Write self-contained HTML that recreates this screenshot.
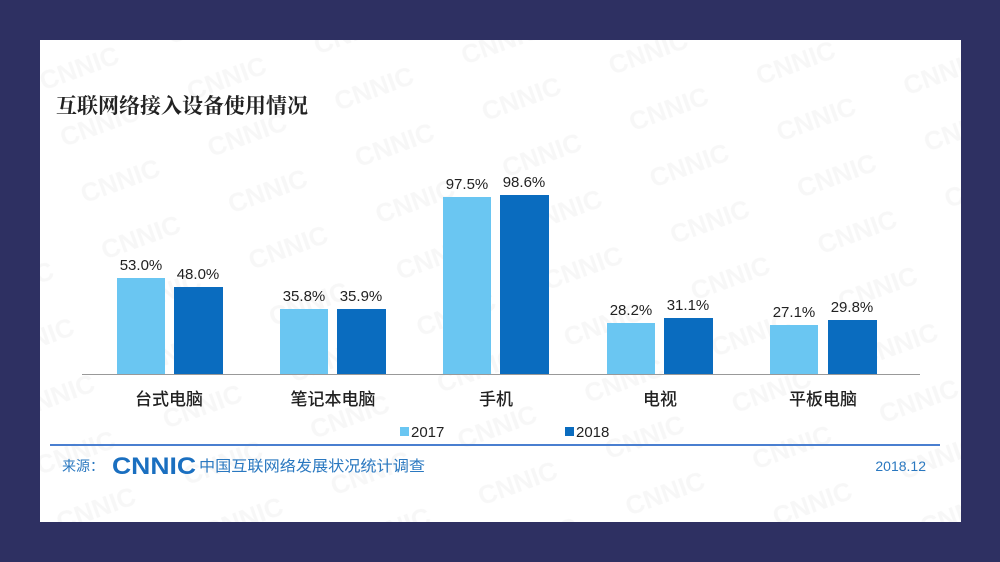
<!DOCTYPE html>
<html><head><meta charset="utf-8"><style>
body{margin:0;width:1000px;height:562px;background:#2e3062;overflow:hidden;font-family:"Liberation Sans","Noto Sans CJK SC",sans-serif;}
svg{position:absolute;left:0;top:0}
</style></head><body>
<svg width="1000" height="562" xmlns="http://www.w3.org/2000/svg" font-family="Liberation Sans, Noto Sans CJK SC, sans-serif">
<rect x="40" y="40" width="921" height="482" fill="#ffffff"/>
<defs><pattern id="wm" width="135" height="60" patternUnits="userSpaceOnUse" patternTransform="rotate(-20)">
<text x="10" y="40" font-size="26" font-weight="bold" fill="#f7f7f7">CNNIC</text></pattern></defs>
<rect x="40" y="40" width="921" height="482" fill="url(#wm)"/>
<text x="56" y="113" font-size="21" font-weight="bold" fill="#222" font-family="Noto Serif CJK SC, serif">互联网络接入设备使用情况</text>
<g fill="#6ac6f2">
<rect x="117" y="278" width="48" height="96"/>
<rect x="280" y="309" width="48" height="65"/>
<rect x="443" y="197" width="48" height="177"/>
<rect x="607" y="323" width="48" height="51"/>
<rect x="770" y="325" width="48" height="49"/>
</g>
<g fill="#0a6cbf">
<rect x="174" y="287" width="49" height="87"/>
<rect x="337" y="309" width="49" height="65"/>
<rect x="500" y="195" width="49" height="179"/>
<rect x="664" y="318" width="49" height="56"/>
<rect x="828" y="320" width="49" height="54"/>
</g>
<line x1="82" y1="374.5" x2="920" y2="374.5" stroke="#999" stroke-width="1"/>
<g font-size="15" fill="#222" text-anchor="middle">
<text x="141" y="270">53.0%</text><text x="198" y="279">48.0%</text>
<text x="304" y="301">35.8%</text><text x="361" y="301">35.9%</text>
<text x="467" y="189">97.5%</text><text x="524" y="187">98.6%</text>
<text x="631" y="315">28.2%</text><text x="688" y="310">31.1%</text>
<text x="794" y="317">27.1%</text><text x="852" y="312">29.8%</text>
</g>
<g font-size="17" fill="#222" text-anchor="middle" font-weight="500">
<text x="169" y="405">台式电脑</text>
<text x="333" y="405">笔记本电脑</text>
<text x="496" y="405">手机</text>
<text x="660" y="405">电视</text>
<text x="823" y="405">平板电脑</text>
</g>
<rect x="400" y="427" width="9" height="9" fill="#6ac6f2"/>
<text x="411" y="437" font-size="15" fill="#222">2017</text>
<rect x="565" y="427" width="9" height="9" fill="#0a6cbf"/>
<text x="576" y="437" font-size="15" fill="#222">2018</text>
<line x1="50" y1="445" x2="940" y2="445" stroke="#4a7fd0" stroke-width="2"/>
<text x="62" y="471" font-size="14" fill="#2a78c0">来源：</text>
<text x="112" y="474" font-size="24" font-weight="bold" fill="#1a6fc0" textLength="84" lengthAdjust="spacingAndGlyphs">CNNIC</text>
<text x="199" y="471" font-size="15" fill="#2a78c0" textLength="226" lengthAdjust="spacingAndGlyphs">中国互联网络发展状况统计调查</text>
<text x="926" y="471" font-size="14" fill="#2a78c0" text-anchor="end">2018.12</text>
</svg>
</body></html>
